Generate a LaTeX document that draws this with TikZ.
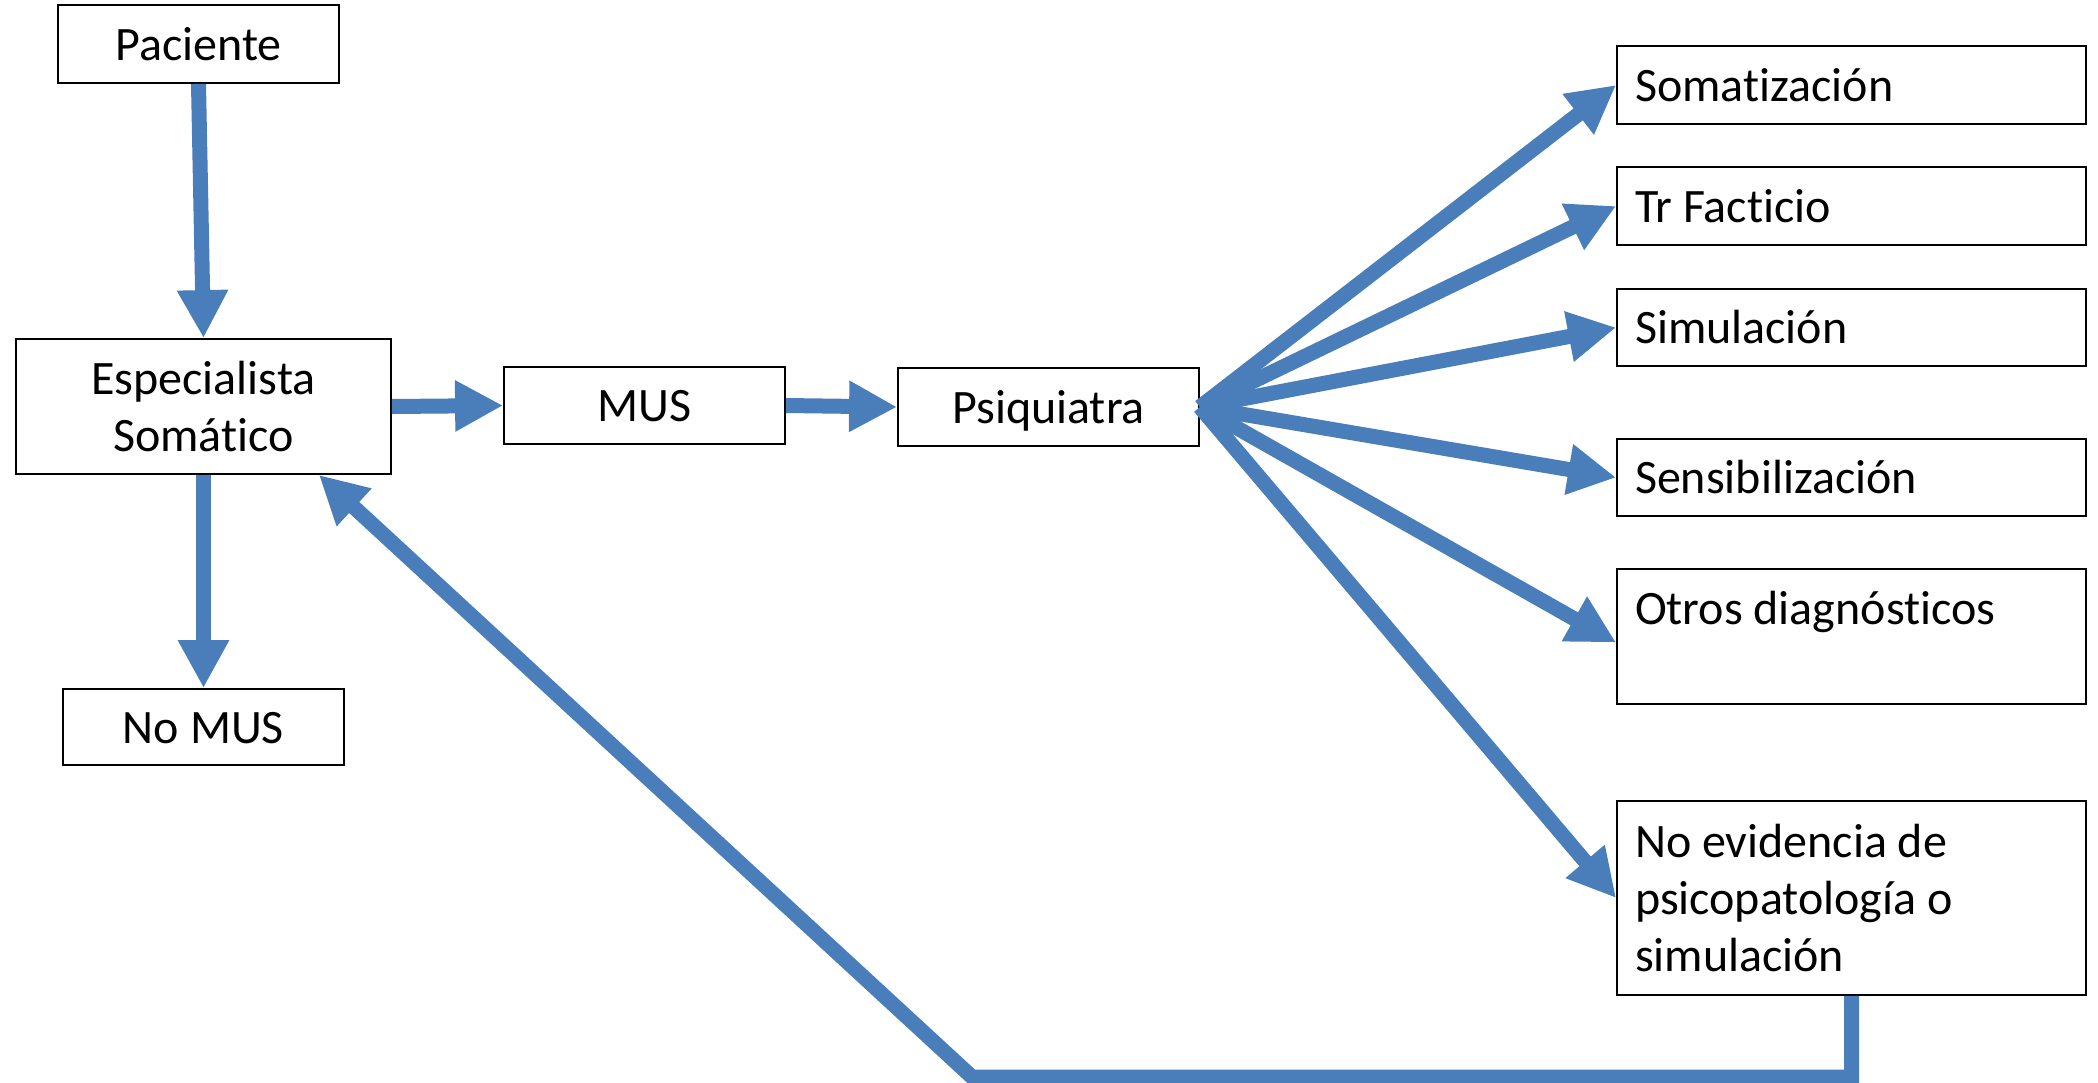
\documentclass[tikz,border=0pt]{standalone}
\usepackage{fontspec}
\setmainfont{Carlito}[Ligatures=NoCommon]
\usetikzlibrary{arrows.meta,calc}
\definecolor{arrowblue}{HTML}{4A7EBB}
\newcommand\mystrut{\rule[-6pt]{0pt}{28pt}}
\tikzset{
  box/.style={draw=black, line width=0.9pt, fill=white, inner sep=0pt,
    font=\fontsize{24pt}{28.5pt}\selectfont, align=center},
  rbox/.style={draw=black, line width=0.9pt, fill=white, inner xsep=9pt, inner ysep=0pt,
    font=\fontsize{24pt}{28.5pt}\selectfont, text width=216.5pt, align=flush left,
    minimum width=234.5pt},
  arr/.style={draw=arrowblue, line width=7.5pt, line join=miter,
    -{Triangle[length=24pt,width=24pt]}}
}
\begin{document}
\begin{tikzpicture}[x=0.5pt,y=-0.5pt]
\useasboundingbox (0,0) rectangle (2098,1082);
% left column
\node[box, minimum width=140.5pt, minimum height=39pt] (pac) at (198.5,44) {\mystrut Paciente};
\node[box, minimum width=187.5pt, minimum height=67.5pt] (esp) at (203.5,406.5) {\mystrut Especialista\\Somático\mystrut};
\node[box, minimum width=140.5pt, minimum height=38pt] (nomus) at (203.5,727) {\mystrut No MUS};
\node[box, minimum width=140.5pt, minimum height=38.5pt] (mus) at (644.5,405.5) {\mystrut MUS};
\node[box, minimum width=150.5pt, minimum height=39pt] (psiq) at (1048.5,407) {\mystrut Psiquiatra};
% right column
\node[rbox, minimum height=39pt] (som) at (1851.5,85) {\mystrut Somatización};
\node[rbox, minimum height=39pt] (fac) at (1851.5,206) {\mystrut Tr Facticio};
\node[rbox, minimum height=38.5pt] (sim) at (1851.5,327.5) {\mystrut Simulación};
\node[rbox, minimum height=38.5pt] (sen) at (1851.5,477.5) {\mystrut Sensibilización};
\node[rbox, minimum height=67.5pt] (otr) at (1851.5,636.5) {\mystrut Otros diagnósticos\\\mystrut};
\node[rbox, minimum height=97pt] (noev) at (1851.5,898) {\mystrut No evidencia de\\psicopatología o\\simulación\mystrut};
% connectors
\draw[arr] (pac.south) -- (esp.north);
\draw[arr] (esp.south) -- (nomus.north);
\draw[arr] (esp.east) -- (mus.west);
\draw[arr] (mus.east) -- (psiq.west);
\draw[arr] (psiq.east) -- (som.west);
\draw[arr] (psiq.east) -- (fac.west);
\draw[arr] (psiq.east) -- (sim.west);
\draw[arr] (psiq.east) -- (sen.west);
\draw[arr] (psiq.east) -- ([yshift=-3pt]otr.west);
\draw[arr] (psiq.east) -- (noev.west);
\coordinate (c2) at (972,1077);
\draw[arr] (noev.south) -- (noev.south |- c2) -- (c2) -- ([xshift=-36.5pt]esp.south east);
\end{tikzpicture}
\end{document}
